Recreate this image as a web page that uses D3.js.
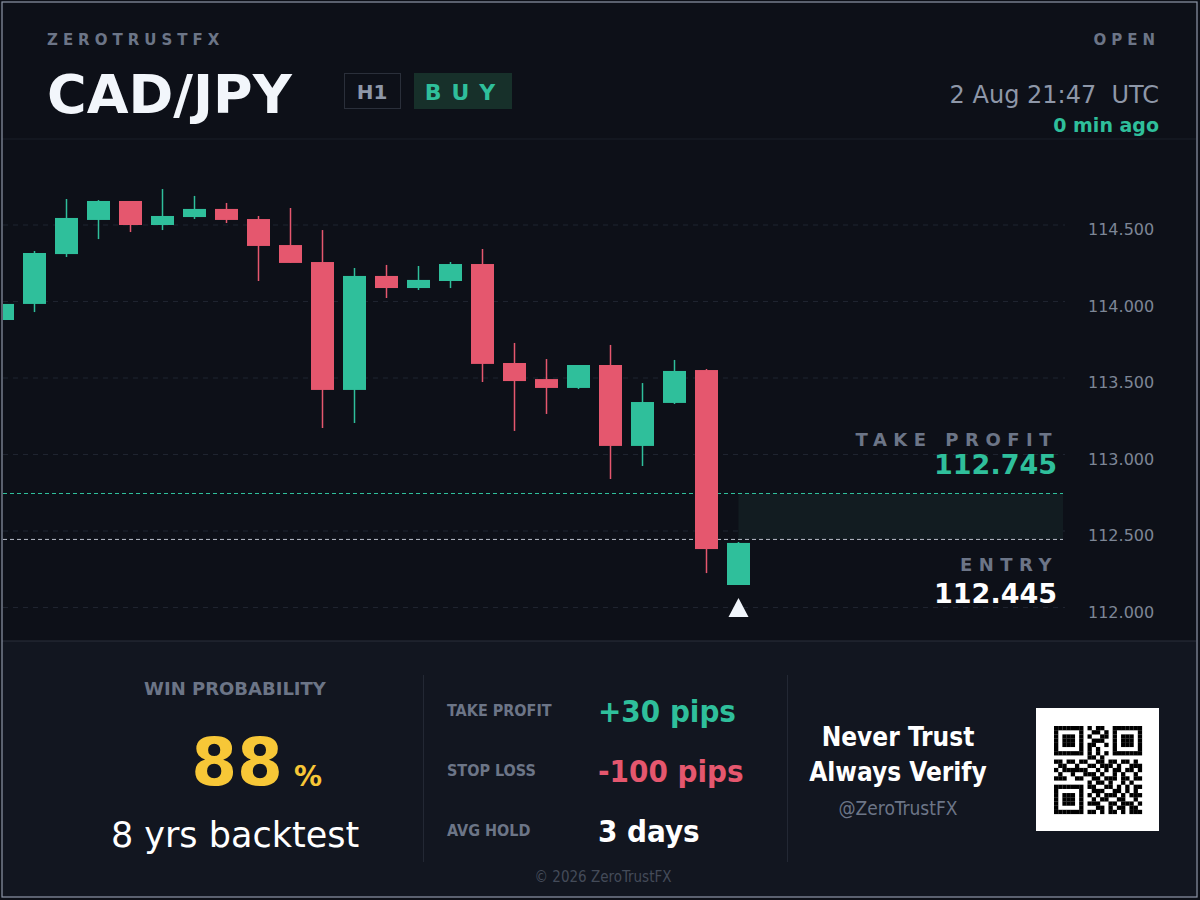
<!DOCTYPE html>
<html><head><meta charset="utf-8">
<script src="https://cdn.jsdelivr.net/npm/d3@7"></script>
<style>html,body{margin:0;padding:0;background:#0d1018;}svg{display:block;font-family:"DejaVu Sans",Verdana,sans-serif;}</style>
</head><body><svg id="c" width="1200" height="900"></svg>
<script>
// ---- data ----
const opens  = [113.879,113.984,114.310,114.533,114.657,114.500,114.552,114.605,114.539,114.369,114.258,113.422,114.167,114.088,114.134,114.245,113.598,113.493,113.435,113.585,113.056,113.337,113.552,112.147];
const closes = [113.984,114.317,114.546,114.657,114.500,114.559,114.605,114.533,114.363,114.252,113.422,114.167,114.088,114.141,114.245,113.592,113.480,113.435,113.585,113.056,113.343,113.546,112.382,112.422];
const highs  = [113.984,114.330,114.670,114.663,114.657,114.735,114.690,114.644,114.559,114.611,114.467,114.219,114.239,114.232,114.258,114.343,113.729,113.624,113.585,113.716,113.467,113.618,113.559,112.428];
const lows   = [113.879,113.931,114.291,114.408,114.454,114.467,114.539,114.513,114.134,114.252,113.173,113.206,114.023,114.075,114.088,113.474,113.154,113.265,113.428,112.840,112.925,113.330,112.225,112.147];
const yTicks = [112.0,112.5,113.0,113.5,114.0,114.5];
const entryPrice = 112.445, tpPrice = 112.745;
const qrRows = [
"111111101011001111111","100000100110101000001","101110101001101011101","101110100111001011101","101110101100101011101","100000101010001000001","111111101010101111111","000000001101000000000","110110110011011011010","011001001101110100111","101111110010101101101","010010011101001010010","111001100110111011011","000000001011010010100","111111101100110101011","100000100111001101010","101110101010111010111","101110100101100110010","101110101110011011101","100000100011010110110","111111101101011010111"];

const svg = d3.select("#c");
const G="#2fbf9b", R="#e5576e";
svg.append("rect").attr("width",1200).attr("height",900).attr("fill","#0d1018");
// bottom panel
svg.append("rect").attr("x",2).attr("y",641).attr("width",1194).attr("height",256).attr("fill","#121620");
svg.append("line").attr("x1",2).attr("x2",1196).attr("y1",641).attr("y2",641).attr("stroke","#2a2f3b");
svg.append("line").attr("x1",2).attr("x2",1196).attr("y1",139).attr("y2",139).attr("stroke","#1b1f29");
svg.append("rect").attr("x",2).attr("y",2).attr("width",1195).attr("height",895).attr("fill","none").attr("stroke","#8e97a8").attr("stroke-width",1.2);

const x = d3.scaleLinear().domain([0,23]).range([2.5,738.5]);
const y = d3.scaleLinear().domain([112,114.5]).range([607.5,225]);

// grid
svg.append("g").selectAll("line").data(yTicks).join("line")
 .attr("x1",3).attr("x2",1065).attr("y1",d=>y(d)).attr("y2",d=>y(d))
 .attr("stroke","#1f2430").attr("stroke-dasharray","5,5");
// y axis
const ax = svg.append("g").attr("transform","translate(1088,0)")
 .call(d3.axisRight(y).tickValues(yTicks).tickFormat(d3.format(".3f")).tickSize(0));
ax.select(".domain").remove();
ax.selectAll("text").attr("x",0).attr("dy","0.35em").attr("fill","#7d8696").attr("font-size",16).attr("font-family","Verdana,'DejaVu Sans',sans-serif");
ax.selectAll("text").attr("transform","translate(0,4)");

// TP zone
svg.append("rect").attr("x",x(23)).attr("y",y(tpPrice)).attr("width",1063-x(23)).attr("height",y(entryPrice)-y(tpPrice)).attr("fill","#121c21");
svg.append("line").attr("x1",3).attr("x2",1063).attr("y1",y(tpPrice)).attr("y2",y(tpPrice)).attr("stroke",G).attr("stroke-dasharray","4,3");
svg.append("line").attr("x1",3).attr("x2",1063).attr("y1",y(entryPrice)).attr("y2",y(entryPrice)).attr("stroke","#b9bfca").attr("stroke-dasharray","4,3");

// candles
svg.append("clipPath").attr("id","cp").append("rect").attr("x",3).attr("y",140).attr("width",1100).attr("height",500);
const cg = svg.append("g").attr("clip-path","url(#cp)");
const idx = d3.range(opens.length);
cg.selectAll("line.w").data(idx).join("line")
 .attr("x1",i=>x(i)).attr("x2",i=>x(i)).attr("y1",i=>y(highs[i])).attr("y2",i=>y(lows[i]))
 .attr("stroke",i=>closes[i]>=opens[i]?G:R).attr("stroke-width",1.5);
cg.selectAll("rect.b").data(idx).join("rect")
 .attr("x",i=>x(i)-11.5).attr("width",23)
 .attr("y",i=>y(Math.max(opens[i],closes[i])))
 .attr("height",i=>Math.max(1,Math.abs(y(opens[i])-y(closes[i]))))
 .attr("fill",i=>closes[i]>=opens[i]?G:R);
// arrow
const ax0=x(23), ay=y(lows[23])+13;
svg.append("path").attr("d",`M${ax0},${ay} L${ax0+10},${ay+19} L${ax0-10},${ay+19} Z`).attr("fill","#f1f5fb");

// labels on chart
function t(xp,yp,s,o){const e=svg.append("text").attr("x",xp).attr("y",yp).text(s);for(const k in o)e.attr(k,o[k]);return e;}
t(1058,446,"TAKE PROFIT",{"text-anchor":"end","fill":"#6c7587","font-size":18,"font-weight":"bold","letter-spacing":"6.5px"});
t(1057,474,tpPrice.toFixed(3),{"text-anchor":"end","fill":G,"font-size":27,"font-weight":"bold"});
t(1058,571,"ENTRY",{"text-anchor":"end","fill":"#6c7587","font-size":18,"font-weight":"bold","letter-spacing":"6.5px"});
t(1057,603,entryPrice.toFixed(3),{"text-anchor":"end","fill":"#ffffff","font-size":27,"font-weight":"bold"});

// header
t(47,45,"ZEROTRUSTFX",{"fill":"#6c7587","font-size":15,"font-weight":"bold","letter-spacing":"5px"});
t(47,113,"CAD/JPY",{"fill":"#f2f6fb","font-size":54,"font-weight":"bold"});
svg.append("rect").attr("x",344.5).attr("y",73.5).attr("width",56).attr("height",35).attr("fill","none").attr("stroke","#2a2f3a");
t(372,99,"H1",{"text-anchor":"middle","fill":"#8e97a8","font-size":20,"font-weight":"bold"});
svg.append("rect").attr("x",414).attr("y",73).attr("width",98).attr("height",36).attr("fill","#17302a");
t(465,100,"BUY",{"text-anchor":"middle","fill":G,"font-size":22,"font-weight":"bold","letter-spacing":"10px"});
t(1160,45,"OPEN",{"text-anchor":"end","fill":"#6c7587","font-size":15,"font-weight":"bold","letter-spacing":"5px"});
t(1159,103,"2 Aug 21:47  UTC",{"text-anchor":"end","fill":"#8e97a8","font-size":24,"xml:space":"preserve","style":"white-space:pre"});
t(1159,132,"0 min ago",{"text-anchor":"end","fill":G,"font-size":19,"font-weight":"bold"});

// bottom
t(235,695,"WIN PROBABILITY",{"text-anchor":"middle","fill":"#6c7587","font-size":18,"font-weight":"bold"});
t(235,785,"88",{"text-anchor":"end","fill":"#f7c737","font-size":66,"font-weight":"bold","dx":48});
t(294,786,"%",{"fill":"#f7c737","font-size":28,"font-weight":"bold"});
t(235,847,"8 yrs backtest",{"text-anchor":"middle","fill":"#ffffff","font-size":35});
svg.append("line").attr("x1",423.5).attr("x2",423.5).attr("y1",675).attr("y2",862).attr("stroke","#232834");
svg.append("line").attr("x1",787.5).attr("x2",787.5).attr("y1",675).attr("y2",862).attr("stroke","#232834");
const cond={"font-stretch":"condensed","font-family":"'DejaVu Sans Condensed','DejaVu Sans',sans-serif"};
t(447,716,"TAKE PROFIT",Object.assign({"fill":"#6c7587","font-size":16,"font-weight":"bold"},cond));
t(447,776,"STOP LOSS",Object.assign({"fill":"#6c7587","font-size":16,"font-weight":"bold"},cond));
t(447,836,"AVG HOLD",Object.assign({"fill":"#6c7587","font-size":16,"font-weight":"bold"},cond));
t(598,722,"+30 pips",Object.assign({"fill":G,"font-size":31,"font-weight":"bold"},cond));
t(598,782,"-100 pips",Object.assign({"fill":R,"font-size":31,"font-weight":"bold"},cond));
t(598,842,"3 days",Object.assign({"fill":"#ffffff","font-size":31,"font-weight":"bold"},cond));
t(898,746,"Never Trust",Object.assign({"text-anchor":"middle","fill":"#ffffff","font-size":26,"font-weight":"bold"},cond));
t(898,781,"Always Verify",Object.assign({"text-anchor":"middle","fill":"#ffffff","font-size":26,"font-weight":"bold"},cond));
t(898,815,"@ZeroTrustFX",Object.assign({"text-anchor":"middle","fill":"#6c7587","font-size":19},cond));
t(603,882,"© 2026 ZeroTrustFX",Object.assign({"text-anchor":"middle","fill":"#444b59","font-size":15},cond));
// QR
svg.append("rect").attr("x",1036).attr("y",708).attr("width",123).attr("height",123).attr("fill","#ffffff");
const cells=[];qrRows.forEach((r,ri)=>r.split("").forEach((c,ci)=>{if(c==="1")cells.push([ri,ci]);}));
const q=d3.scaleLinear().domain([0,21]).range([1054,1142]);
const qy=d3.scaleLinear().domain([0,21]).range([726,814]);
svg.append("g").selectAll("rect").data(cells).join("rect")
 .attr("x",d=>q(d[1])).attr("y",d=>qy(d[0])).attr("width",4.3).attr("height",4.3).attr("fill","#000");
</script></body></html>
